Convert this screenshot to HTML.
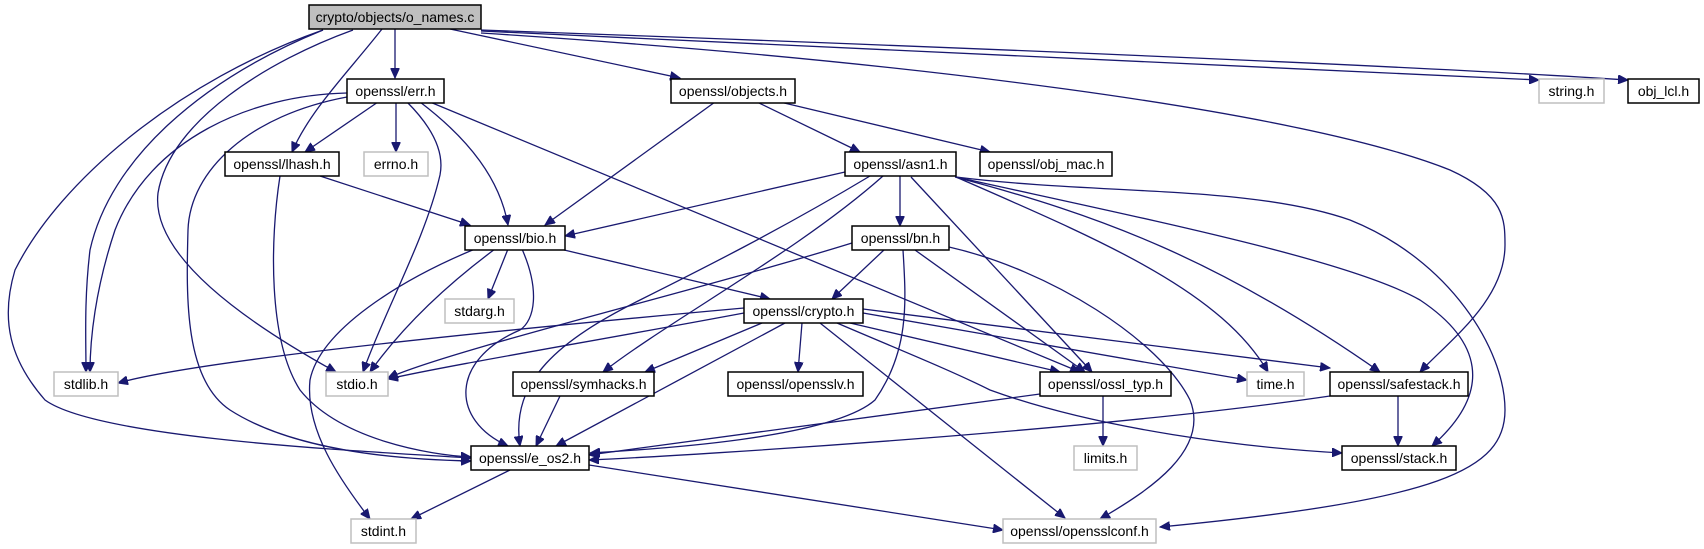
<!DOCTYPE html>
<html><head><meta charset="utf-8"><style>
html,body{margin:0;padding:0;background:#fff;}
svg{display:block;}
text{font-family:"Liberation Sans",Arial,sans-serif;font-size:14px;fill:#000;}
.e{fill:none;stroke:#191970;stroke-width:1.3;}
.n{fill:#fff;stroke:#000;stroke-width:1.5;}
.g{fill:#fff;stroke:#bfbfbf;stroke-width:1.5;}
</style></head><body>
<svg width="1704" height="549" viewBox="0 0 1704 549" xmlns="http://www.w3.org/2000/svg">
<defs><marker id="a" markerUnits="userSpaceOnUse" markerWidth="11" markerHeight="9" refX="10" refY="4.5" orient="auto"><path d="M0,0 L10,4.5 L0,9 z" fill="#191970" stroke="#191970"/></marker></defs>
<g marker-end="url(#a)">
<!-- o_names -->
<path class="e" d="M395,29 L395,78"/>
<path class="e" d="M382,29 C350,70 310,110 292,152"/>
<path class="e" d="M450,29 L680,78"/>
<path class="e" d="M323,30 C200,80 110,160 90,250 C84,300 86,340 86,372"/>
<path class="e" d="M353,30 C270,60 170,120 158,193 C150,260 260,330 336,372"/>
<path class="e" d="M323,30 C180,80 60,180 15,270 C0,320 10,360 45,400 C100,440 380,452 471,458"/>
<path class="e" d="M481,31 C900,50 1300,70 1539,80"/>
<path class="e" d="M481,30 C900,45 1400,65 1628,80"/>
<path class="e" d="M481,33 C900,60 1300,110 1450,170 C1505,195 1505,220 1505,245 C1505,300 1450,340 1420,372"/>
<!-- err -->
<path class="e" d="M378,102 L305,152"/>
<path class="e" d="M396,102 L396,152"/>
<path class="e" d="M420,102 C470,140 500,180 508,225"/>
<path class="e" d="M407,102 C430,125 445,150 440,175 C425,240 385,310 363,372"/>
<path class="e" d="M430,102 L1080,372"/>
<path class="e" d="M347,93 C250,95 150,140 115,230 C95,290 90,340 90,372"/>
<path class="e" d="M347,97 C250,115 190,170 188,230 C186,300 185,380 230,410 C300,455 420,460 471,461"/>
<!-- objects -->
<path class="e" d="M715,102 L545,225"/>
<path class="e" d="M757,102 L860,152"/>
<path class="e" d="M780,102 L990,152"/>
<!-- lhash -->
<path class="e" d="M280,176 C270,240 268,340 300,390 C340,440 430,455 471,457"/>
<path class="e" d="M320,176 L470,225"/>
<!-- asn1 -->
<path class="e" d="M845,172 L565,236"/>
<path class="e" d="M900,176 L900,226"/>
<path class="e" d="M870,176 C780,230 700,270 640,300 C560,340 510,380 520,446"/>
<path class="e" d="M883,176 C800,250 670,320 603,372"/>
<path class="e" d="M911,177 L1092,372"/>
<path class="e" d="M956,177 C1100,240 1220,290 1268,372"/>
<path class="e" d="M955,177 C1100,215 1220,260 1380,372"/>
<path class="e" d="M956,177 C1150,220 1350,260 1420,300 C1480,340 1495,390 1432,446"/>
<path class="e" d="M956,177 C1100,195 1250,185 1350,220 C1450,260 1505,350 1505,410 C1505,470 1440,500 1160,527"/>
<!-- bio -->
<path class="e" d="M508,249 L488,299"/>
<path class="e" d="M495,249 C440,290 400,330 370,372"/>
<path class="e" d="M560,249 L770,299"/>
<path class="e" d="M522,249 C540,290 535,320 520,330 C450,360 450,420 508,446"/>
<path class="e" d="M475,249 C400,280 320,330 310,380 C305,430 340,480 370,519"/>
<!-- bn -->
<path class="e" d="M885,249 L832,299"/>
<path class="e" d="M852,243 C700,290 450,350 388,378"/>
<path class="e" d="M903,250 C906,300 910,350 875,400 C830,440 640,450 590,453"/>
<path class="e" d="M915,250 L1085,372"/>
<path class="e" d="M949,247 C1050,270 1160,340 1190,400 C1210,450 1150,490 1100,519"/>
<!-- crypto -->
<path class="e" d="M744,308 C500,330 200,360 118,383"/>
<path class="e" d="M744,313 C600,340 450,365 388,379"/>
<path class="e" d="M762,323 L645,372"/>
<path class="e" d="M802,323 L798,372"/>
<path class="e" d="M785,323 L556,446"/>
<path class="e" d="M850,323 L1060,372"/>
<path class="e" d="M863,313 L1247,380"/>
<path class="e" d="M863,309 L1330,368"/>
<path class="e" d="M837,323 C900,350 950,370 990,390 C1100,430 1250,448 1342,453"/>
<path class="e" d="M820,323 L1065,518"/>
<!-- lower -->
<path class="e" d="M560,396 L536,446"/>
<path class="e" d="M1040,394 L589,455"/>
<path class="e" d="M1103,396 L1103,446"/>
<path class="e" d="M1330,396 C1100,430 700,455 589,460"/>
<path class="e" d="M1398,396 L1398,446"/>
<path class="e" d="M510,470 L411,519"/>
<path class="e" d="M589,465 L1003,530"/>
</g>
<!-- nodes -->
<rect x="309" y="5" width="172" height="24" fill="#bfbfbf" stroke="#000" stroke-width="1.5"/><text x="395" y="22" text-anchor="middle">crypto/objects/o_names.c</text>
<rect class="n" x="347" y="79" width="97" height="24"/><text x="395.5" y="96" text-anchor="middle">openssl/err.h</text>
<rect class="n" x="671" y="79" width="124" height="24"/><text x="733" y="96" text-anchor="middle">openssl/objects.h</text>
<rect class="g" x="1539" y="79" width="65" height="24"/><text x="1571.5" y="96" text-anchor="middle">string.h</text>
<rect class="n" x="1628" y="79" width="71" height="24"/><text x="1663.5" y="96" text-anchor="middle">obj_lcl.h</text>
<rect class="n" x="225" y="152" width="114" height="24"/><text x="282" y="169" text-anchor="middle">openssl/lhash.h</text>
<rect class="g" x="364" y="152" width="64" height="24"/><text x="396" y="169" text-anchor="middle">errno.h</text>
<rect class="n" x="845" y="152" width="111" height="24"/><text x="900.5" y="169" text-anchor="middle">openssl/asn1.h</text>
<rect class="n" x="980" y="152" width="132" height="24"/><text x="1046" y="169" text-anchor="middle">openssl/obj_mac.h</text>
<rect class="n" x="465" y="226" width="100" height="24"/><text x="515" y="243" text-anchor="middle">openssl/bio.h</text>
<rect class="n" x="852" y="226" width="97" height="24"/><text x="900.5" y="243" text-anchor="middle">openssl/bn.h</text>
<rect class="g" x="445" y="299" width="69" height="24"/><text x="479.5" y="316" text-anchor="middle">stdarg.h</text>
<rect class="n" x="744" y="299" width="119" height="24"/><text x="803.5" y="316" text-anchor="middle">openssl/crypto.h</text>
<rect class="g" x="54" y="372" width="64" height="24"/><text x="86" y="389" text-anchor="middle">stdlib.h</text>
<rect class="g" x="326" y="372" width="62" height="24"/><text x="357" y="389" text-anchor="middle">stdio.h</text>
<rect class="n" x="513" y="372" width="141" height="24"/><text x="583.5" y="389" text-anchor="middle">openssl/symhacks.h</text>
<rect class="n" x="728" y="372" width="135" height="24"/><text x="795.5" y="389" text-anchor="middle">openssl/opensslv.h</text>
<rect class="n" x="1040" y="372" width="131" height="24"/><text x="1105.5" y="389" text-anchor="middle">openssl/ossl_typ.h</text>
<rect class="g" x="1247" y="372" width="57" height="24"/><text x="1275.5" y="389" text-anchor="middle">time.h</text>
<rect class="n" x="1330" y="372" width="138" height="24"/><text x="1399" y="389" text-anchor="middle">openssl/safestack.h</text>
<rect class="n" x="471" y="446" width="118" height="24"/><text x="530" y="463" text-anchor="middle">openssl/e_os2.h</text>
<rect class="g" x="1074" y="446" width="63" height="24"/><text x="1105.5" y="463" text-anchor="middle">limits.h</text>
<rect class="n" x="1342" y="446" width="114" height="24"/><text x="1399" y="463" text-anchor="middle">openssl/stack.h</text>
<rect class="g" x="351" y="519" width="65" height="24"/><text x="383.5" y="536" text-anchor="middle">stdint.h</text>
<rect class="g" x="1003" y="519" width="153" height="24"/><text x="1079.5" y="536" text-anchor="middle">openssl/opensslconf.h</text>
</svg>
</body></html>
